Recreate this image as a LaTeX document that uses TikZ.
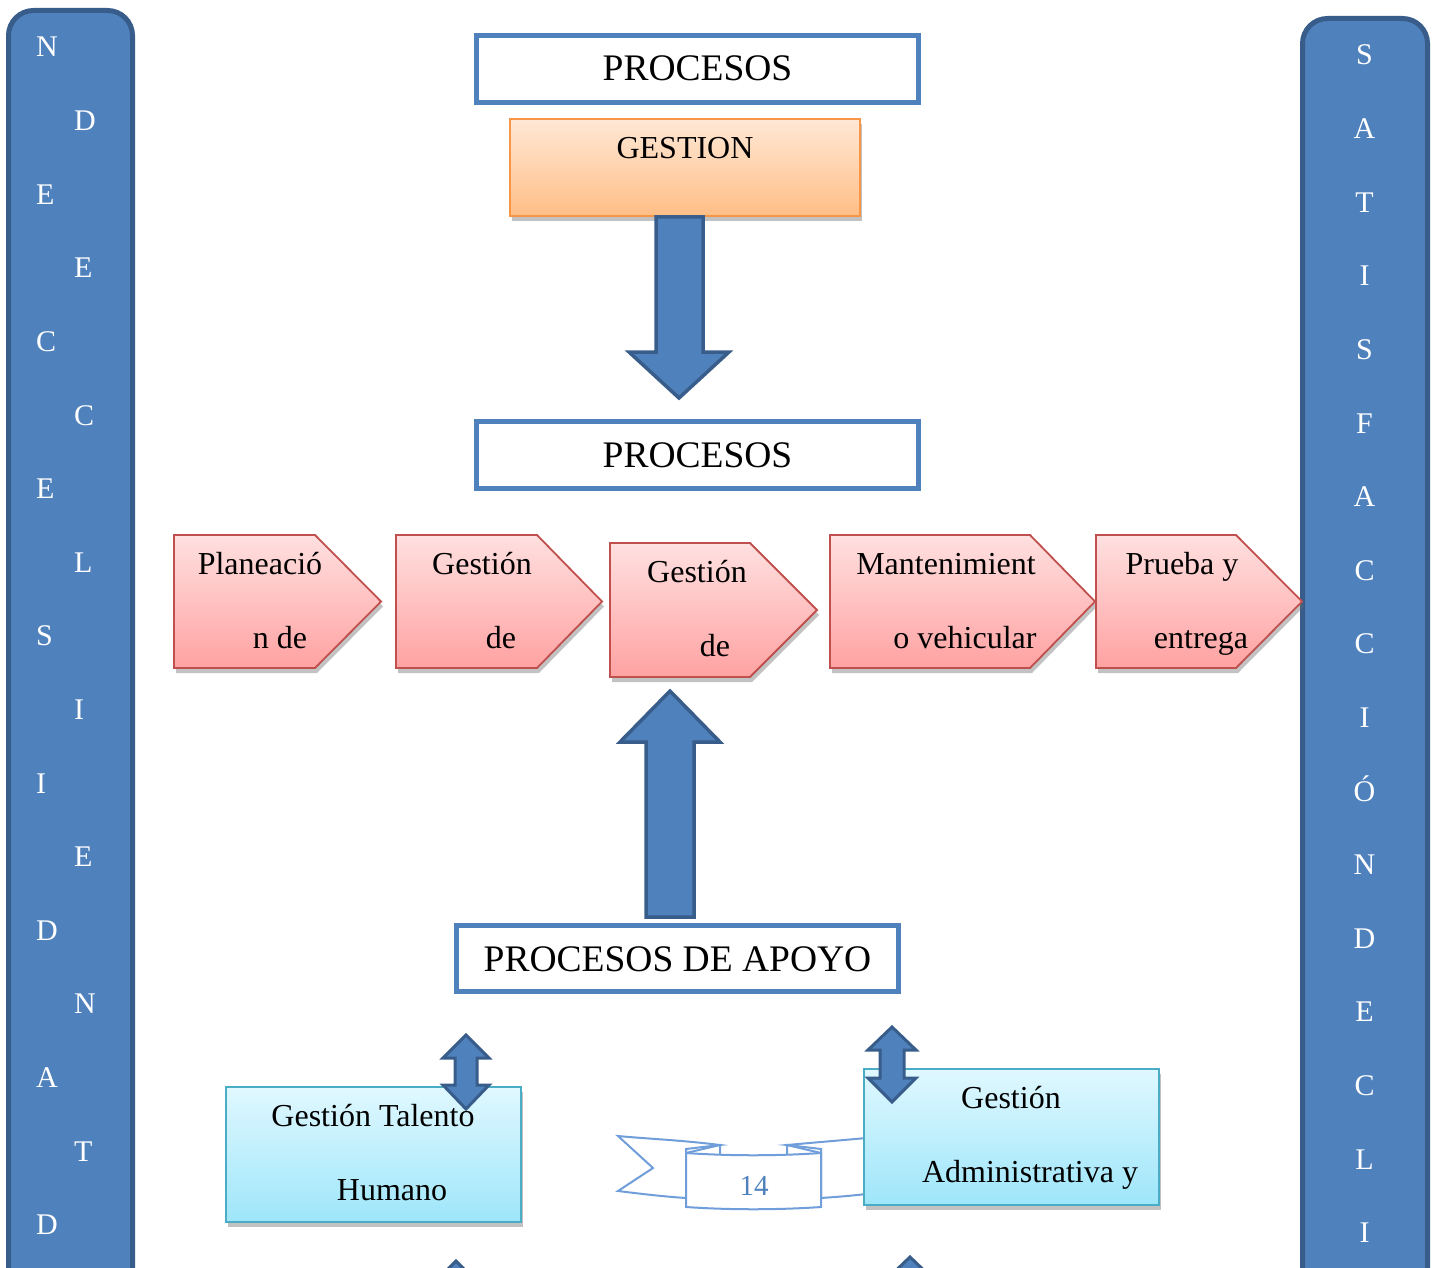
\documentclass[tikz,border=0pt]{standalone}
\usepackage{fontspec}
\setmainfont{Liberation Serif}
\usetikzlibrary{shadows}
\definecolor{barfill}{RGB}{79,129,189}
\definecolor{bardark}{RGB}{56,93,138}
\definecolor{boxblue}{RGB}{79,129,189}
\definecolor{orangeb}{RGB}{247,150,70}
\definecolor{orangetop}{RGB}{255,232,214}
\definecolor{orangebot}{RGB}{255,190,134}
\definecolor{redb}{RGB}{192,80,77}
\definecolor{redtop}{RGB}{255,224,224}
\definecolor{redbot}{RGB}{255,162,162}
\definecolor{cyanb}{RGB}{75,172,198}
\definecolor{cyantop}{RGB}{224,248,255}
\definecolor{cyanbot}{RGB}{158,230,250}
\definecolor{ribbonc}{RGB}{112,158,218}
\begin{document}
\begin{tikzpicture}[x=1pt,y=-1pt,
  bar/.style={draw=bardark,fill=barfill,line width=5pt,rounded corners=25pt},
  barletter/.style={text=white,font=\fontsize{30}{36}\selectfont,inner sep=0pt},
  pbox/.style={draw=boxblue,line width=5pt,fill=white,inner sep=0pt},
  ptext/.style={font=\fontsize{37.5}{43}\selectfont,inner sep=0pt,anchor=base},
  btext/.style={font=\fontsize{32}{38}\selectfont,inner sep=0pt,anchor=base},
  shad/.style={drop shadow={shadow xshift=2pt,shadow yshift=-5pt,opacity=0.4,fill=black!60}},
  gbox/.style={draw=orangeb,line width=2pt,top color=orangetop,bottom color=orangebot,shad,inner sep=0pt},
  chev/.style={draw=redb,line width=1.8pt,top color=redtop,bottom color=redbot,shad},
  cbox/.style={draw=cyanb,line width=2pt,top color=cyantop,bottom color=cyanbot,shad,inner sep=0pt},
  blockarrow/.style={draw=bardark,fill=barfill,line width=3.5pt,line join=miter},
  rib/.style={draw=ribbonc,line width=2pt,fill=white,line join=miter}]
\useasboundingbox (0,0) rectangle (1432,1268);
\clip (0,0) rectangle (1432,1268);

% side bars
\draw[bar] (8.5,10.5) rectangle (132.5,1340);
\draw[bar] (1302.5,18.5) rectangle (1427.5,1340);

% left letters
\foreach \t/\c [count=\k from 0] in {N/36,D/74,E/36,E/74,C/36,C/74,E/36,L/74,S/36,I/74,I/36,E/74,D/36,N/74,A/36,T/74,D/36}{
  \node[barletter,anchor=base west] (ll\k) at (\c,{57+73.6*\k}) {\t};
}
% right letters
\foreach \t [count=\k from 0] in {S,A,T,I,S,F,A,C,C,I,Ó,N,D,E,C,L,I}{
  \node[barletter,anchor=base] (rl\k) at (1364.5,{65+73.6*\k}) {\t};
}

% top boxes
\node[pbox,minimum width=442,minimum height=67] (proc1) at (697.5,69) {};
\node[ptext] (proc1t) at (697.5,81) {PROCESOS};
\node[gbox,minimum width=350,minimum height=97] (gest) at (685,167.5) {};
\node[btext] (gestt) at (685,158.5) {GESTION};

% down arrow
\draw[blockarrow] (656,217) -- (703,217) -- (703,352) -- (729,352) -- (679,398) -- (629,352) -- (656,352) -- cycle;

\node[pbox,minimum width=442,minimum height=67] (proc2) at (697.5,455) {};
\node[ptext] (proc2t) at (697.5,467) {PROCESOS};

% chevrons
\path[chev] (174,535) -- (315,535) -- (381,601.5) -- (315,668) -- (174,668) -- cycle;
\path[chev] (396,535) -- (537,535) -- (602,601.5) -- (537,668) -- (396,668) -- cycle;
\path[chev] (610,543) -- (750,543) -- (817,610) -- (750,677) -- (610,677) -- cycle;
\path[chev] (830,535) -- (1030,535) -- (1095,601.5) -- (1030,668) -- (830,668) -- cycle;
\path[chev] (1096,535) -- (1236,535) -- (1302,601.5) -- (1236,668) -- (1096,668) -- cycle;

\node[btext] (c1a) at (260,574) {Planeació};
\node[btext] (c1b) at (280,648) {n de};
\node[btext] (c2a) at (482,574) {Gestión};
\node[btext] (c2b) at (501,648) {de};
\node[btext] (c3a) at (697,582) {Gestión};
\node[btext] (c3b) at (715,656) {de};
\node[btext] (c4a) at (946,574) {Mantenimient};
\node[btext] (c4b) at (965,648) {o vehicular};
\node[btext] (c5a) at (1182,574) {Prueba y};
\node[btext] (c5b) at (1201,648) {entrega};

% up arrow
\draw[blockarrow] (646,917) -- (694,917) -- (694,742) -- (720,742) -- (670,691) -- (620,742) -- (646,742) -- cycle;

\node[pbox,minimum width=442,minimum height=66] (apoyo) at (677.5,958.5) {};
\node[ptext] (apoyot) at (677.5,971) {PROCESOS DE APOYO};

% ribbon 14
\path[rib] (686,1149) -- (720,1145) .. controls (680,1140) and (650,1139) .. (618,1136) -- (653,1168) -- (618,1191) .. controls (650,1195) and (670,1197) .. (686,1198) -- cycle;
\path[rib] (821,1149) -- (787,1145) .. controls (820,1142) and (845,1140) .. (866,1138) -- (866,1194) .. controls (850,1196) and (835,1197) .. (821,1198) -- cycle;
\draw[rib] (686,1153) .. controls (730,1156) and (777,1156) .. (821,1153) -- (821,1207) .. controls (777,1210) and (730,1210) .. (686,1207) -- cycle;
\draw[ribbonc,line width=2pt] (686,1153) -- (720,1145) -- (720,1155);
\draw[ribbonc,line width=2pt] (821,1153) -- (787,1145) -- (787,1155);
\node[font=\fontsize{29}{34}\selectfont,text=barfill,inner sep=0pt,anchor=base] (num) at (754,1195) {14};

% bottom boxes
\node[cbox,minimum width=295,minimum height=135] (talento) at (373.5,1154.5) {};
\node[cbox,minimum width=295,minimum height=136] (admin) at (1011.5,1137) {};

% double arrows
\draw[blockarrow,line width=3pt] (455,1058) -- (455,1085) -- (443,1085) -- (466,1109) -- (489,1085) -- (477,1085) -- (477,1058) -- (489,1058) -- (466,1035) -- (443,1058) -- cycle;
\draw[blockarrow,line width=3pt] (880,1050) -- (880,1078) -- (868,1078) -- (892,1102) -- (916,1078) -- (904,1078) -- (904,1050) -- (916,1050) -- (892,1027) -- (868,1050) -- cycle;
\draw[blockarrow,line width=3pt] (445,1284) -- (445,1310) -- (433,1310) -- (456,1334) -- (479,1310) -- (467,1310) -- (467,1284) -- (479,1284) -- (456,1261) -- (433,1284) -- cycle;
\draw[blockarrow,line width=3pt] (898,1280) -- (898,1306) -- (886,1306) -- (910,1330) -- (934,1306) -- (922,1306) -- (922,1280) -- (934,1280) -- (910,1257) -- (886,1280) -- cycle;

\node[btext] (t1a) at (373,1126) {Gestión Talento};
\node[btext] (t1b) at (392,1200) {Humano};
\node[btext] (t2a) at (1011,1108) {Gestión};
\node[btext] (t2b) at (1030,1182) {Administrativa y};
\end{tikzpicture}
\end{document}
